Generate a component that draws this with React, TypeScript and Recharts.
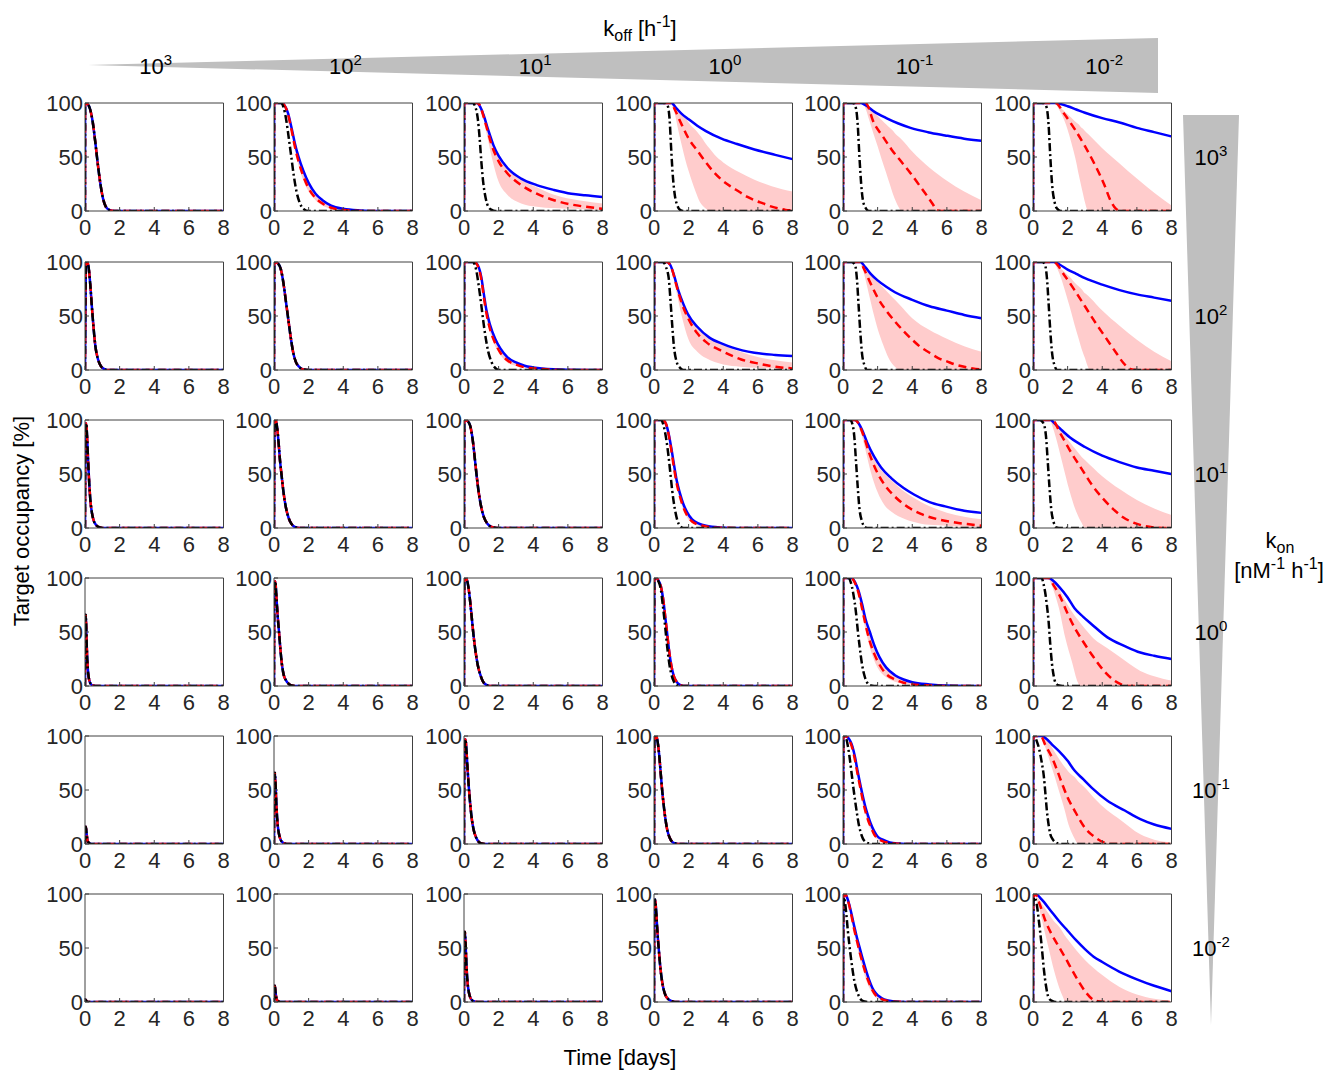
import { Area, ComposedChart, Line, XAxis, YAxis } from "recharts";

// grid of target-occupancy panels: rows = kon 10^3 .. 10^-2, cols = koff 10^3 .. 10^-2
type Pts = [number, number][];
type Band = [number, number, number][]; // [t, lower, upper]

const X_TICKS = [0, 2, 4, 6, 8];
const Y_TICKS = [0, 50, 100];
const KOFF_EXP = ["3", "2", "1", "0", "-1", "-2"];
const KON_EXP = ["3", "2", "1", "0", "-1", "-2"];

// panels where all three curves lie on top of each other
const M00: Pts = [[0, 0], [0.01, 100], [0.15, 99], [0.3, 94], [0.45, 82], [0.6, 63], [0.75, 42], [0.9, 24], [1.05, 11], [1.2, 4], [1.4, 1], [1.7, 0], [8, 0]];
const M10: Pts = [[0, 0], [0.05, 98], [0.12, 100], [0.2, 96], [0.3, 80], [0.4, 58], [0.5, 38], [0.6, 22], [0.75, 10], [0.9, 4], [1.1, 1], [1.3, 0], [8, 0]];
const M11: Pts = [[0, 0], [0.02, 100], [0.2, 99], [0.4, 93], [0.55, 80], [0.7, 62], [0.8, 50], [0.95, 32], [1.1, 17], [1.25, 8], [1.45, 3], [1.7, 0.5], [2, 0], [8, 0]];
const M20: Pts = [[0, 0], [0.03, 95], [0.07, 97], [0.12, 85], [0.18, 62], [0.25, 40], [0.32, 24], [0.4, 14], [0.5, 7], [0.65, 2.5], [0.85, 0.5], [1, 0], [8, 0]];
const M21: Pts = [[0, 0], [0.03, 99], [0.1, 100], [0.18, 93], [0.27, 78], [0.35, 62], [0.43, 50], [0.55, 33], [0.7, 18], [0.85, 9], [1, 4], [1.2, 1], [1.5, 0], [8, 0]];
const M22: Pts = [[0, 0], [0.02, 100], [0.2, 99], [0.35, 95], [0.5, 82], [0.6, 68], [0.72, 50], [0.85, 33], [1, 19], [1.15, 10], [1.35, 4], [1.6, 1], [1.9, 0], [8, 0]];
const M30: Pts = [[0, 0], [0.02, 60], [0.04, 66], [0.07, 55], [0.1, 38], [0.14, 22], [0.19, 11], [0.25, 5], [0.33, 2], [0.45, 0.5], [0.6, 0], [8, 0]];
const M31: Pts = [[0, 0], [0.02, 90], [0.06, 97], [0.1, 93], [0.15, 80], [0.22, 63], [0.29, 50], [0.37, 34], [0.45, 21], [0.55, 11], [0.7, 5], [0.85, 2], [1, 0.5], [1.2, 0], [8, 0]];
const M32: Pts = [[0, 0], [0.02, 97], [0.08, 100], [0.15, 99], [0.25, 92], [0.35, 79], [0.45, 63], [0.53, 50], [0.65, 34], [0.8, 19], [0.95, 10], [1.1, 4], [1.3, 1], [1.5, 0], [8, 0]];
const M33: Pts = [[0, 0], [0.02, 99], [0.1, 100], [0.25, 98], [0.4, 92], [0.55, 78], [0.65, 64], [0.75, 50], [0.87, 33], [1, 19], [1.15, 9], [1.3, 4], [1.5, 1], [1.7, 0], [8, 0]];
const M40: Pts = [[0, 0], [0.02, 12], [0.05, 16], [0.09, 10], [0.14, 4], [0.2, 1.5], [0.3, 0.3], [0.4, 0], [8, 0]];
const M41: Pts = [[0, 0], [0.02, 55], [0.05, 66], [0.09, 55], [0.14, 36], [0.2, 20], [0.28, 10], [0.38, 4], [0.5, 1.5], [0.65, 0.3], [0.8, 0], [8, 0]];
const M42: Pts = [[0, 0], [0.02, 88], [0.07, 97], [0.11, 94], [0.16, 82], [0.22, 66], [0.29, 50], [0.37, 35], [0.46, 22], [0.56, 13], [0.7, 6], [0.85, 2], [1, 0.5], [1.2, 0], [8, 0]];
const M43: Pts = [[0, 0], [0.02, 95], [0.1, 100], [0.17, 98], [0.25, 90], [0.33, 77], [0.4, 63], [0.47, 50], [0.56, 36], [0.66, 23], [0.78, 12], [0.9, 6], [1.05, 2], [1.25, 0.5], [1.5, 0], [8, 0]];
const M50: Pts = [[0, 0], [0.03, 2], [0.08, 1], [0.15, 0], [8, 0]];
const M51: Pts = [[0, 0], [0.02, 12], [0.05, 15], [0.09, 9], [0.14, 3.5], [0.2, 1.2], [0.3, 0.3], [0.4, 0], [8, 0]];
const M52: Pts = [[0, 0], [0.02, 55], [0.05, 65], [0.09, 55], [0.14, 35], [0.2, 19], [0.28, 9], [0.38, 3.5], [0.5, 1.2], [0.65, 0.3], [0.8, 0], [8, 0]];
const M53: Pts = [[0, 0], [0.02, 88], [0.06, 95], [0.1, 90], [0.15, 78], [0.21, 62], [0.28, 48], [0.36, 33], [0.45, 21], [0.55, 12], [0.67, 6], [0.8, 3], [1, 1], [1.2, 0], [8, 0]];

// blue solid
const B01: Pts = [[0, 0], [0.01, 100], [0.4, 100], [0.6, 98], [0.8, 91], [1, 78], [1.2, 63], [1.4, 51], [1.7, 37], [2, 26], [2.4, 16], [2.8, 10], [3.3, 5], [4, 2], [5, 0.5], [6, 0], [8, 0]];
const B02: Pts = [[0, 0], [0.01, 100], [0.75, 100], [0.95, 96], [1.15, 88], [1.4, 75], [1.7, 61], [2, 51], [2.5, 40], [3.3, 30], [4.2, 24], [5.2, 19.5], [6.2, 16], [7, 14.5], [8, 13]];
const B03: Pts = [[0, 0], [0.01, 100], [1, 100], [1.3, 95], [1.6, 90], [2, 85], [2.5, 79], [3, 74], [3.9, 67], [4.8, 62], [5.8, 57], [7, 52], [8, 48]];
const B04: Pts = [[0, 0], [0.01, 100], [1, 100], [1.3, 98], [1.8, 92], [2.5, 86], [3.2, 81], [3.9, 77], [4.9, 73], [5.9, 70], [7, 67], [8, 65]];
const B05: Pts = [[0, 0], [0.01, 100], [1.3, 100], [1.6, 99], [2, 97], [2.5, 94], [3, 91], [4, 86], [5, 82], [6, 77], [7, 73], [8, 69]];
const B12: Pts = [[0, 0], [0.01, 100], [0.6, 100], [0.8, 97], [1, 86], [1.15, 70], [1.3, 55], [1.5, 42], [1.8, 29], [2.1, 20], [2.5, 12], [3, 7], [3.5, 4], [4.5, 1.5], [6, 0.3], [8, 0]];
const B13: Pts = [[0, 0], [0.01, 100], [0.75, 100], [0.95, 97], [1.15, 88], [1.4, 74], [1.7, 61], [1.95, 52], [2.5, 40], [3.2, 30], [4, 24], [4.5, 21], [5.8, 16], [7, 14], [8, 13]];
const B14: Pts = [[0, 0], [0.01, 100], [1, 100], [1.3, 95], [1.6, 89], [2, 83], [2.5, 77], [3, 72], [4, 65], [5, 59], [6, 55], [7, 51], [8, 48]];
const B15: Pts = [[0, 0], [0.01, 100], [1.2, 100], [1.6, 97], [2, 93], [2.5, 89], [3, 85], [4, 79], [5, 74], [6, 70], [7, 67], [8, 64]];
const B23: Pts = [[0, 0], [0.01, 100], [0.5, 100], [0.7, 96], [0.85, 87], [1, 74], [1.15, 59], [1.3, 45], [1.5, 32], [1.7, 22], [1.9, 15], [2.2, 8], [2.6, 4], [3, 2], [3.8, 0.5], [5, 0], [8, 0]];
const B24: Pts = [[0, 0], [0.01, 100], [0.7, 100], [0.9, 97], [1.1, 91], [1.4, 79], [1.8, 66], [2.2, 56], [2.8, 46], [3.5, 37], [4.1, 31], [5, 24], [5.9, 20], [7, 16], [8, 14]];
const B25: Pts = [[0, 0], [0.01, 100], [1, 100], [1.3, 96], [1.7, 90], [2.2, 83], [3, 75], [4, 67], [5, 61], [6, 56], [7, 53], [8, 50]];
const B34: Pts = [[0, 0], [0.01, 100], [0.5, 100], [0.7, 96], [0.9, 88], [1.1, 76], [1.3, 62], [1.55, 50], [1.8, 38], [2.1, 27], [2.5, 17], [3, 10], [3.5, 6], [4, 3.5], [5, 1.5], [6, 0.5], [8, 0]];
const B35: Pts = [[0, 0], [0.01, 100], [0.9, 100], [1.2, 97], [1.5, 92], [2, 82], [2.4, 72], [2.9, 64], [3.4, 57], [4.3, 45], [5.3, 37], [6.2, 31], [7, 28], [8, 25]];
const B44: Pts = [[0, 0], [0.02, 98], [0.1, 100], [0.25, 99], [0.4, 96], [0.55, 90], [0.7, 80], [0.85, 67], [1, 55], [1.15, 44], [1.3, 34], [1.45, 26], [1.6, 19], [1.8, 12], [2, 7], [2.3, 4], [2.7, 1.5], [3.2, 0.5], [4, 0], [8, 0]];
const B45: Pts = [[0, 0], [0.02, 97], [0.05, 100], [0.5, 100], [0.8, 97], [1.1, 92], [1.5, 86], [2, 77], [2.4, 68], [2.9, 60], [3.4, 52], [4.3, 40], [5.3, 31], [6.2, 23], [7, 18], [8, 14]];
const B54: Pts = [[0, 0], [0.02, 97], [0.1, 100], [0.2, 98], [0.35, 91], [0.5, 81], [0.65, 70], [0.8, 60], [0.95, 51], [1.1, 42], [1.3, 31], [1.5, 21], [1.7, 13], [1.9, 8], [2.2, 4], [2.6, 1.5], [3.2, 0.3], [4, 0], [8, 0]];
const B55: Pts = [[0, 0], [0.02, 97], [0.12, 100], [0.25, 99], [0.5, 95], [1, 85], [1.5, 75], [2, 66], [2.5, 57], [3, 49], [3.5, 42], [4, 37], [5, 28], [6, 21], [7, 15], [8, 10]];

// red dashed
const R01: Pts = [[0, 0], [0.01, 100], [0.4, 100], [0.6, 98], [0.8, 90], [1, 76], [1.2, 60], [1.4, 47], [1.7, 32], [2, 21], [2.4, 12], [2.8, 7], [3.3, 3], [4, 1], [5, 0], [8, 0]];
const R02: Pts = [[0, 0], [0.01, 100], [0.75, 100], [0.95, 97], [1.1, 89], [1.35, 75], [1.6, 61], [2, 46], [2.5, 35], [3.3, 24], [4.2, 16], [5.2, 10], [6.2, 6], [7, 4], [8, 2]];
const R03: Pts = [[0, 0], [0.01, 100], [1, 100], [1.2, 94], [1.6, 80], [2, 67], [2.5, 56], [2.95, 46], [3.4, 37], [3.9, 29], [4.4, 23], [4.9, 18], [5.4, 13], [5.8, 10], [6.3, 7], [6.8, 4], [7.3, 2], [7.6, 1], [8, 0.5]];
const R04: Pts = [[0, 0], [0.01, 100], [1.3, 100], [1.8, 81], [2.3, 69], [2.8, 57], [3.35, 46], [3.9, 35], [4.4, 24], [4.9, 13], [5.2, 6], [5.4, 1], [5.6, 0], [8, 0]];
const R05: Pts = [[0, 0], [0.01, 100], [1.3, 100], [1.8, 90], [2.4, 76], [3, 60], [3.6, 42], [4.1, 25], [4.5, 9], [4.8, 2], [5.1, 0], [8, 0]];
const R12: Pts = [[0, 0], [0.01, 100], [0.6, 100], [0.8, 96], [1, 84], [1.15, 67], [1.3, 52], [1.5, 38], [1.8, 25], [2.1, 16], [2.5, 9], [3, 5], [3.5, 2.5], [4.5, 1], [6, 0], [8, 0]];
const R13: Pts = [[0, 0], [0.01, 100], [0.75, 100], [1, 95], [1.3, 78], [1.6, 62], [2, 47], [2.5, 34], [3, 26], [4, 17], [5, 10], [6, 6], [7, 3], [8, 1.5]];
const R14: Pts = [[0, 0], [0.01, 100], [1, 100], [1.2, 94], [1.6, 80], [2, 67], [2.5, 55], [3, 45], [3.5, 36], [4, 28], [4.5, 21], [5, 16], [5.5, 11], [6, 8], [6.5, 5], [7, 3], [7.5, 1.5], [8, 0.5]];
const R15: Pts = [[0, 0], [0.01, 100], [1.2, 100], [1.8, 88], [2.4, 74], [3, 59], [3.6, 44], [4.2, 30], [4.8, 16], [5.2, 7], [5.6, 1], [6, 0], [8, 0]];
const R23: Pts = [[0, 0], [0.01, 100], [0.5, 100], [0.7, 96], [0.85, 86], [1, 72], [1.15, 56], [1.3, 42], [1.5, 29], [1.7, 19], [1.9, 12], [2.2, 6], [2.6, 3], [3, 1.5], [3.8, 0.3], [5, 0], [8, 0]];
const R24: Pts = [[0, 0], [0.01, 100], [0.7, 100], [0.95, 95], [1.2, 85], [1.5, 70], [1.9, 54], [2.4, 40], [3, 29], [3.6, 21], [4.5, 13], [5.5, 8], [6.5, 5], [7.5, 3], [8, 2]];
const R25: Pts = [[0, 0], [0.01, 100], [1.1, 100], [1.6, 87], [2.2, 70], [2.8, 55], [3.4, 40], [4, 28], [4.6, 18], [5.2, 10], [5.8, 5], [6.4, 2], [7, 0.5], [7.5, 0], [8, 0]];
const R34: Pts = [[0, 0], [0.01, 100], [0.5, 100], [0.7, 95], [0.9, 86], [1.1, 72], [1.3, 57], [1.5, 44], [1.8, 30], [2.1, 20], [2.5, 11], [3, 6], [3.5, 3], [4, 1.5], [5, 0.5], [6, 0], [8, 0]];
const R35: Pts = [[0, 0], [0.01, 100], [0.9, 100], [1.2, 93], [1.5, 85], [2, 67], [2.4, 54], [2.9, 41], [3.4, 29], [4.1, 14], [4.7, 5], [5.1, 1.5], [5.5, 0], [8, 0]];
const R44: Pts = [[0, 0], [0.02, 98], [0.1, 100], [0.25, 99], [0.4, 95], [0.55, 88], [0.7, 77], [0.85, 64], [1, 52], [1.15, 40], [1.3, 30], [1.45, 22], [1.6, 16], [1.8, 9], [2, 5], [2.3, 2.5], [2.7, 1], [3.2, 0.3], [4, 0], [8, 0]];
const R45: Pts = [[0, 0], [0.02, 97], [0.05, 100], [0.45, 100], [0.7, 92], [1.1, 80], [1.4, 68], [1.7, 55], [2, 43], [2.4, 31], [3, 15], [3.6, 6], [4.1, 1.5], [4.5, 0], [8, 0]];
const R54: Pts = [[0, 0], [0.02, 97], [0.1, 100], [0.2, 98], [0.35, 90], [0.5, 79], [0.65, 67], [0.8, 57], [0.95, 47], [1.1, 38], [1.3, 27], [1.5, 18], [1.7, 11], [1.9, 6], [2.2, 3], [2.6, 1], [3.2, 0.2], [4, 0], [8, 0]];
const R55: Pts = [[0, 0], [0.02, 97], [0.12, 100], [0.4, 90], [0.72, 75], [1.1, 62], [1.5, 51], [1.9, 40], [2.24, 30], [2.6, 20], [3.1, 8], [3.4, 3], [3.8, 0.5], [4.2, 0], [8, 0]];

// black dash-dot
const K01: Pts = [[0, 0], [0.01, 100], [0.4, 100], [0.55, 96], [0.7, 85], [0.85, 68], [1, 50], [1.15, 32], [1.3, 18], [1.5, 7], [1.7, 2], [2, 0], [8, 0]];
const K02: Pts = [[0, 0], [0.01, 100], [0.5, 100], [0.7, 94], [0.8, 85], [0.9, 68], [1, 46], [1.1, 28], [1.25, 12], [1.4, 4], [1.6, 1], [1.8, 0], [8, 0]];
const K03: Pts = [[0, 0], [0.01, 100], [0.65, 100], [0.8, 97], [0.9, 85], [1, 55], [1.1, 30], [1.2, 15], [1.35, 5], [1.5, 1], [1.7, 0], [8, 0]];
const K04: Pts = [[0, 0], [0.01, 100], [0.6, 100], [0.75, 95], [0.85, 80], [0.95, 50], [1.05, 25], [1.15, 10], [1.3, 3], [1.5, 0], [8, 0]];
const K05: Pts = [[0, 0], [0.01, 100], [0.65, 100], [0.8, 95], [0.9, 80], [1, 50], [1.1, 25], [1.25, 8], [1.4, 2], [1.6, 0], [8, 0]];
const K12: Pts = [[0, 0], [0.01, 100], [0.5, 100], [0.7, 93], [0.85, 78], [1, 60], [1.1, 47], [1.25, 30], [1.4, 17], [1.6, 7], [1.8, 2], [2, 0], [8, 0]];
const K13: Pts = [[0, 0], [0.01, 100], [0.5, 100], [0.7, 95], [0.85, 85], [0.95, 65], [1.05, 42], [1.15, 22], [1.3, 8], [1.5, 2], [1.7, 0], [8, 0]];
const K14: Pts = [[0, 0], [0.01, 100], [0.5, 100], [0.7, 97], [0.8, 85], [0.9, 60], [1, 35], [1.1, 15], [1.25, 4], [1.4, 0], [8, 0]];
const K15: Pts = [[0, 0], [0.01, 100], [0.55, 100], [0.7, 97], [0.8, 86], [0.9, 62], [1, 36], [1.1, 16], [1.25, 4], [1.4, 0], [8, 0]];
const K23: Pts = [[0, 0], [0.01, 100], [0.4, 100], [0.55, 95], [0.7, 83], [0.85, 65], [0.95, 50], [1.05, 35], [1.2, 18], [1.35, 7], [1.5, 2], [1.7, 0], [8, 0]];
const K24: Pts = [[0, 0], [0.01, 100], [0.4, 100], [0.55, 96], [0.65, 85], [0.75, 62], [0.85, 38], [0.95, 18], [1.1, 6], [1.25, 1], [1.4, 0], [8, 0]];
const K25: Pts = [[0, 0], [0.01, 100], [0.4, 100], [0.6, 97], [0.75, 85], [0.85, 62], [0.95, 38], [1.05, 18], [1.2, 5], [1.35, 0.5], [1.5, 0], [8, 0]];
const K33: Pts = [[0, 0], [0.02, 99], [0.1, 100], [0.25, 97], [0.4, 89], [0.5, 76], [0.6, 62], [0.7, 46], [0.8, 31], [0.9, 19], [1, 11], [1.15, 4], [1.3, 1], [1.5, 0], [8, 0]];
const K34: Pts = [[0, 0], [0.01, 100], [0.3, 100], [0.45, 96], [0.6, 85], [0.75, 68], [0.85, 52], [0.95, 38], [1.1, 20], [1.25, 9], [1.4, 3], [1.6, 0.5], [1.8, 0], [8, 0]];
const K35: Pts = [[0, 0], [0.01, 100], [0.5, 100], [0.6, 95], [0.7, 87], [0.8, 75], [0.9, 60], [1, 38], [1.1, 20], [1.2, 9], [1.3, 3], [1.5, 0.5], [1.7, 0], [8, 0]];
const K44: Pts = [[0, 0], [0.02, 96], [0.1, 100], [0.2, 97], [0.3, 89], [0.4, 78], [0.5, 65], [0.6, 52], [0.7, 40], [0.8, 29], [0.9, 19], [1, 12], [1.15, 5], [1.3, 2], [1.5, 0.5], [1.7, 0], [8, 0]];
const K45: Pts = [[0, 0], [0.02, 97], [0.1, 100], [0.2, 96], [0.34, 89], [0.5, 76], [0.63, 62], [0.72, 46], [0.8, 31], [0.9, 18], [1, 9], [1.15, 4], [1.3, 1.5], [1.5, 0.3], [1.7, 0], [8, 0]];
const K54: Pts = [[0, 0], [0.02, 90], [0.07, 97], [0.12, 92], [0.2, 80], [0.28, 66], [0.36, 54], [0.45, 42], [0.55, 30], [0.65, 20], [0.75, 13], [0.9, 6], [1.05, 2], [1.25, 0.5], [1.5, 0], [8, 0]];
const K55: Pts = [[0, 0], [0.02, 92], [0.07, 97], [0.2, 92], [0.34, 75], [0.5, 52], [0.63, 30], [0.75, 15], [0.9, 4], [1.1, 1], [1.3, 0], [8, 0]];

// pink bands around the red curve
const N01: Band = [[0.6, 97, 98], [0.8, 88, 91], [1, 73, 78], [1.2, 56, 62], [1.4, 43, 50], [1.7, 28, 36], [2, 18, 25], [2.4, 10, 15], [2.8, 5, 9], [3.3, 2, 4], [4, 0.5, 1.5], [5, 0, 0.3]];
const N02: Band = [[0.75, 100, 100], [1, 93, 97], [1.3, 72, 83], [1.6, 50, 65], [2, 27, 49], [2.5, 15, 39], [3.3, 7, 29], [4.2, 4, 22], [5.2, 2.7, 15], [6.2, 2, 11], [7, 1.5, 9], [8, 1, 7]];
const N03: Band = [[1, 100, 100], [1.2, 90, 97], [1.4, 75, 93], [1.6, 61, 89], [1.8, 48, 86], [2, 37, 82], [2.2, 27, 78], [2.4, 18, 75], [2.6, 10, 71], [2.8, 5, 67], [3, 2, 62], [3.2, 0, 58], [3.5, 0, 52], [4, 0, 45], [4.9, 0, 36], [5.8, 0, 29], [6.8, 0, 23], [8, 0, 18]];
const N04: Band = [[1.1, 100, 100], [1.3, 95, 100], [1.5, 85, 96], [1.75, 72, 92], [2, 60, 88], [2.25, 47, 84], [2.5, 35, 80], [2.7, 25, 77], [2.9, 15, 74], [3.05, 9, 71], [3.2, 4, 69], [3.4, 0, 66], [4, 0, 55], [5, 0, 40], [6, 0, 28], [7, 0, 18], [8, 0, 10]];
const N05: Band = [[1.3, 100, 100], [1.5, 94, 97], [1.7, 88, 94], [1.9, 80, 91], [2.1, 70, 88], [2.3, 58, 85], [2.5, 45, 82], [2.65, 33, 80], [2.8, 22, 77], [2.9, 15, 76], [3, 8, 74], [3.2, 0, 71], [4, 0, 58], [5, 0, 44], [6, 0, 30], [7, 0, 17], [8, 0, 5]];
const N12: Band = [[0.8, 95, 97], [1, 81, 86], [1.15, 63, 70], [1.3, 48, 55], [1.5, 35, 42], [1.8, 22, 29], [2.1, 14, 20], [2.5, 7, 12], [3, 4, 7], [3.5, 2, 4], [4.5, 0.5, 1.5], [6, 0, 0.3]];
const N13: Band = [[0.75, 100, 100], [1, 93, 97], [1.3, 72, 82], [1.6, 50, 65], [2, 28, 50], [2.5, 17, 39], [3, 11, 32], [4, 5, 23], [5, 3, 17], [6, 2, 12], [7, 1.5, 9], [8, 1, 7]];
const N14: Band = [[1, 100, 100], [1.2, 90, 96], [1.5, 70, 90], [1.8, 50, 85], [2.1, 33, 80], [2.4, 20, 75], [2.7, 9, 70], [3, 3, 65], [3.3, 0, 60], [4, 0, 48], [5, 0, 37], [6, 0, 29], [7, 0, 22], [8, 0, 17]];
const N15: Band = [[1.2, 100, 100], [1.4, 94, 97], [1.6, 86, 94], [1.8, 76, 91], [2, 65, 88], [2.2, 54, 85], [2.4, 42, 81], [2.6, 31, 78], [2.8, 20, 75], [3, 11, 71], [3.1, 6, 70], [3.3, 0, 67], [4, 0, 55], [5, 0, 41], [6, 0, 28], [7, 0, 17], [8, 0, 8]];
const N23: Band = [[0.7, 95, 96], [0.85, 84, 87], [1, 69, 74], [1.15, 53, 59], [1.3, 39, 45], [1.5, 26, 32], [1.7, 17, 22], [1.9, 10, 15], [2.2, 5, 8], [2.6, 2, 4], [3, 1, 2], [3.8, 0.2, 0.5], [5, 0, 0]];
const N24: Band = [[0.7, 100, 100], [1, 90, 95], [1.3, 72, 83], [1.6, 52, 71], [2, 33, 58], [2.4, 21, 50], [2.8, 15, 44], [3.6, 8, 33], [4.5, 4, 24], [5.5, 2.5, 17], [6.5, 1.5, 12], [7.5, 1, 9], [8, 0.5, 8]];
const N25: Band = [[1, 100, 100], [1.3, 85, 96], [1.7, 60, 89], [2.1, 35, 80], [2.5, 15, 72], [2.8, 5, 66], [3, 0, 63], [4, 0, 48], [5, 0, 36], [6, 0, 26], [7, 0, 18], [8, 0, 12]];
const N34: Band = [[0.5, 100, 100], [0.8, 90, 93], [1.1, 67, 76], [1.4, 45, 57], [1.7, 28, 42], [2, 17, 30], [2.5, 8, 17], [3, 4, 10], [4, 1, 3.5], [5, 0, 1.5], [6, 0, 0.5]];
const N35: Band = [[0.9, 100, 100], [1.2, 88, 96], [1.5, 72, 90], [1.86, 45, 79], [2.24, 23, 69], [2.6, 3, 61], [2.7, 0, 59], [3, 0, 53], [3.5, 0, 44], [4.3, 0, 35], [5, 0, 27], [6.2, 0, 14], [7, 0, 9], [8, 0, 5]];
const N44: Band = [[0.4, 94, 96], [0.55, 86, 90], [0.7, 74, 80], [0.85, 60, 67], [1, 48, 55], [1.15, 36, 44], [1.3, 27, 34], [1.45, 19, 26], [1.6, 13, 19], [1.8, 7, 12], [2, 4, 7], [2.3, 2, 4], [2.7, 0.8, 1.5], [3.2, 0.2, 0.5]];
const N45: Band = [[0.45, 100, 100], [0.7, 90, 97], [1, 75, 92], [1.3, 60, 84], [1.5, 49, 79], [1.8, 33, 72], [2.05, 18, 67], [2.25, 10, 64], [2.4, 5, 62], [2.6, 0, 58], [3, 0, 52], [3.5, 0, 43], [4.3, 0, 31], [5, 0, 23], [6.2, 0, 9], [7, 0, 4], [8, 0, 1.5]];
const N54: Band = [[0.35, 88, 91], [0.5, 76, 81], [0.65, 63, 70], [0.8, 52, 60], [0.95, 42, 51], [1.1, 33, 42], [1.3, 22, 31], [1.5, 14, 21], [1.7, 8, 13], [1.9, 4, 8], [2.2, 2, 4], [2.6, 0.5, 1.5], [3.2, 0, 0.3]];
const N55: Band = [[0.12, 100, 100], [0.3, 90, 96], [0.6, 70, 89], [0.9, 50, 82], [1.2, 30, 75], [1.5, 14, 70], [1.75, 4, 64], [1.86, 0, 61], [2, 0, 58], [2.5, 0, 48], [3, 0, 39], [4, 0, 25], [5, 0, 14], [6, 0, 7], [7, 0, 3], [8, 0, 1]];

const BLUE: Pts[][] = [
  [M00, B01, B02, B03, B04, B05],
  [M10, M11, B12, B13, B14, B15],
  [M20, M21, M22, B23, B24, B25],
  [M30, M31, M32, M33, B34, B35],
  [M40, M41, M42, M43, B44, B45],
  [M50, M51, M52, M53, B54, B55],
];
const RED: Pts[][] = [
  [M00, R01, R02, R03, R04, R05],
  [M10, M11, R12, R13, R14, R15],
  [M20, M21, M22, R23, R24, R25],
  [M30, M31, M32, M33, R34, R35],
  [M40, M41, M42, M43, R44, R45],
  [M50, M51, M52, M53, R54, R55],
];
const BLACK: Pts[][] = [
  [M00, K01, K02, K03, K04, K05],
  [M10, M11, K12, K13, K14, K15],
  [M20, M21, M22, K23, K24, K25],
  [M30, M31, M32, K33, K34, K35],
  [M40, M41, M42, M43, K44, K45],
  [M50, M51, M52, M53, K54, K55],
];
const BAND: Band[][] = [
  [[], N01, N02, N03, N04, N05],
  [[], [], N12, N13, N14, N15],
  [[], [], [], N23, N24, N25],
  [[], [], [], [], N34, N35],
  [[], [], [], [], N44, N45],
  [[], [], [], [], N54, N55],
];

const FONT = "'Liberation Sans', Arial, Helvetica, sans-serif";
const INK = "#262626";
const FRAME = "#404040";
const WEDGE = "#bfbfbf";

// plot-area placement on the page
const COL_X = [84.5, 274.2, 463.9, 653.6, 843.3, 1033];
const ROW_Y = [103.3, 261.5, 419.7, 577.9, 736.1, 894.3];
const PW = 138.5;
const PH = 108;
const AX_W = 48;
const AX_H = 36;
const PAD_T = 14;
const PAD_R = 8;

const TICK = { fill: INK, fontSize: 22, fontFamily: FONT };

const toRows = (p: Pts) => p.map(([t, y]) => ({ t, y }));

function Panel({ r, c }: { r: number; c: number }) {
  const band = BAND[r][c].map(([t, lo, hi]) => ({ t, v: [lo, hi] }));
  return (
    <div style={{ position: "absolute", left: COL_X[c] - AX_W, top: ROW_Y[r] - PAD_T - 1 }}>
      <ComposedChart
        width={AX_W + PW + 1 + PAD_R}
        height={PAD_T + 1 + PH + AX_H}
        margin={{ top: PAD_T, right: PAD_R, bottom: 0, left: 0 }}
      >
        <XAxis
          type="number"
          dataKey="t"
          domain={[0, 8]}
          ticks={X_TICKS}
          interval={0}
          height={AX_H}
          tickSize={-4}
          tickMargin={12}
          stroke={FRAME}
          tick={TICK}
          allowDataOverflow
        />
        <YAxis
          type="number"
          domain={[0, 100]}
          ticks={Y_TICKS}
          interval={0}
          width={AX_W}
          tickSize={-4}
          tickMargin={6}
          stroke={FRAME}
          tick={TICK}
          allowDataOverflow
        />
        <XAxis
          xAxisId="top"
          orientation="top"
          type="number"
          dataKey="t"
          domain={[0, 8]}
          ticks={X_TICKS}
          height={1}
          tickSize={-4}
          tick={false}
          stroke={FRAME}
          allowDataOverflow
        />
        <YAxis
          yAxisId="right"
          orientation="right"
          type="number"
          domain={[0, 100]}
          ticks={Y_TICKS}
          width={1}
          tickSize={-4}
          tick={false}
          stroke={FRAME}
          allowDataOverflow
        />
        {band.length > 0 && (
          <Area
            data={band}
            dataKey="v"
            type="monotone"
            stroke="none"
            fill="#ffcccc"
            fillOpacity={1}
            isAnimationActive={false}
          />
        )}
        <Line data={toRows(BLUE[r][c])} dataKey="y" type="monotone" stroke="#0000ff" strokeWidth={2.5} dot={false} activeDot={false} isAnimationActive={false} />
        <Line data={toRows(RED[r][c])} dataKey="y" type="monotone" stroke="#ff0000" strokeWidth={2.5} strokeDasharray="8 5" dot={false} activeDot={false} isAnimationActive={false} />
        {/* black curve sits on the top/right frame axes, which share the same domains */}
        <Line
          xAxisId="top"
          yAxisId="right"
          data={toRows(BLACK[r][c])}
          dataKey="y"
          type="monotone"
          stroke="#000000"
          strokeWidth={2.5}
          strokeDasharray="8 3 2 3"
          dot={false}
          activeDot={false}
          isAnimationActive={false}
        />
      </ComposedChart>
    </div>
  );
}

function Pow({ x, y, e }: { x: number; y: number; e: string }) {
  return (
    <text x={x} y={y} textAnchor="middle" fontSize={22} fill="#000">
      10
      <tspan fontSize={15} dy={-9}>{e}</tspan>
    </text>
  );
}

export default function App() {
  return (
    <div style={{ position: "absolute", left: 0, top: 0, width: 1331, height: 1071, background: "#fff", fontFamily: FONT }}>
      <svg width={1331} height={1071} style={{ position: "absolute", left: 0, top: 0 }} fontFamily={FONT}>
        <polygon points="88,65 1158,38 1158,93" fill={WEDGE} />
        <polygon points="1183,115 1239,115 1211,1025" fill={WEDGE} />
        <text x={640} y={36} textAnchor="middle" fontSize={22}>
          k<tspan fontSize={16} dy={5}>off</tspan>
          <tspan dy={-5}> [h</tspan>
          <tspan fontSize={16} dy={-9}>-1</tspan>
          <tspan dy={9}>]</tspan>
        </text>
        {KOFF_EXP.map((e, c) => (
          <Pow key={"c" + c} x={COL_X[c] + PW / 2 + 2} y={74} e={e} />
        ))}
        {KON_EXP.map((e, r) => (
          <Pow key={"r" + r} x={1211} y={ROW_Y[r] + PH / 2 + 8} e={e} />
        ))}
        <text x={1280} y={548} textAnchor="middle" fontSize={22}>
          k<tspan fontSize={16} dy={5}>on</tspan>
        </text>
        <text x={1279} y={578} textAnchor="middle" fontSize={22}>
          [nM<tspan fontSize={16} dy={-9}>-1</tspan>
          <tspan dy={9}> h</tspan>
          <tspan fontSize={16} dy={-9}>-1</tspan>
          <tspan dy={9}>]</tspan>
        </text>
        <text transform="translate(29,521) rotate(-90)" textAnchor="middle" fontSize={22} fill="#000">
          Target occupancy [%]
        </text>
        <text x={620} y={1065} textAnchor="middle" fontSize={22} fill="#000">
          Time [days]
        </text>
      </svg>
      {ROW_Y.map((_, r) => COL_X.map((__, c) => <Panel key={r + "-" + c} r={r} c={c} />))}
    </div>
  );
}
